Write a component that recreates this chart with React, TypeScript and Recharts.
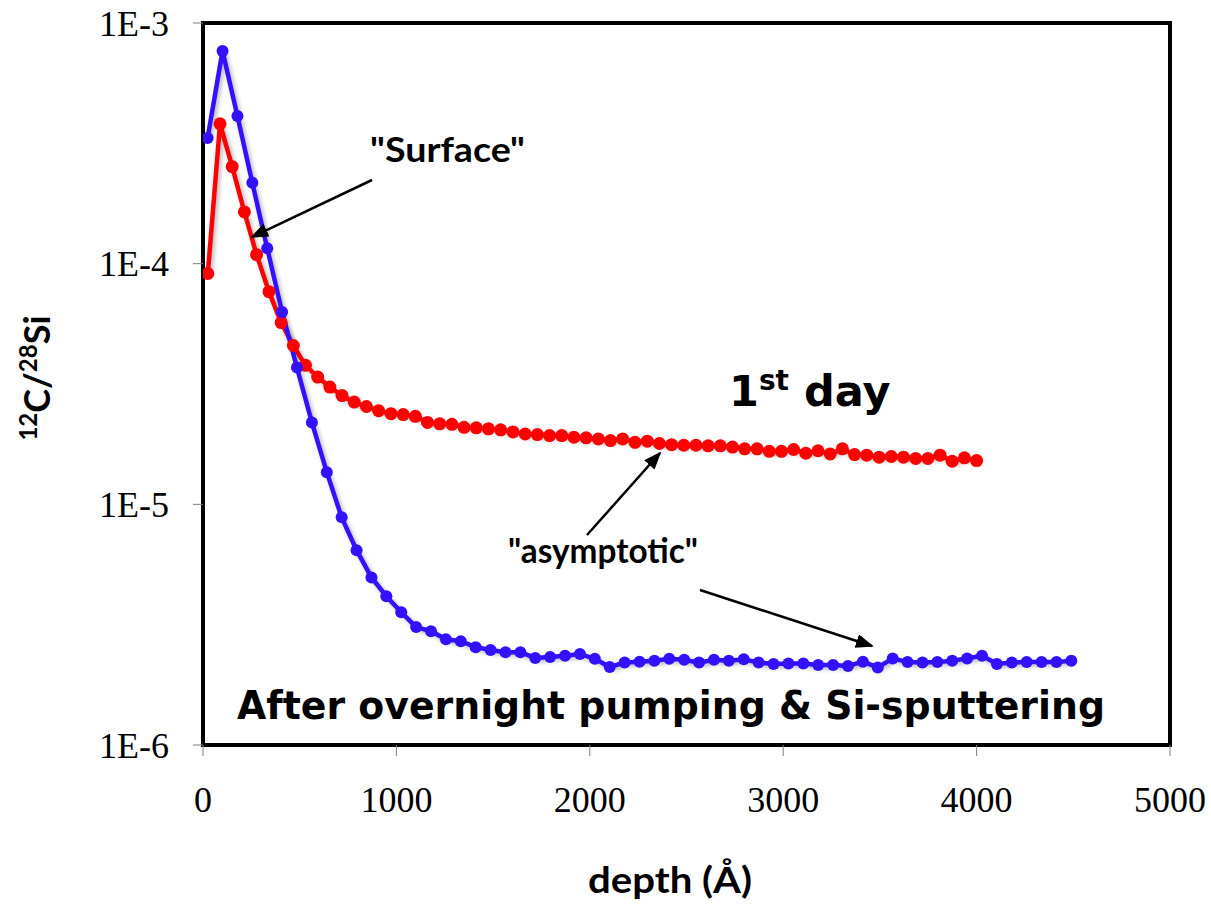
import React from 'react';
import { LineChart, Line, XAxis, YAxis, ReferenceArea } from 'recharts';

// depth (Å) and 12C/28Si ratio, first day (red)
const firstDayDepth = [
  25, 88, 151, 214, 277, 341, 404, 467, 530, 593, 656, 719, 782, 845, 908, 972,
  1035, 1098, 1161, 1224, 1287, 1350, 1413, 1476, 1539, 1603, 1666, 1729, 1792, 1855, 1918, 1981,
  2044, 2107, 2170, 2234, 2297, 2360, 2423, 2486, 2549, 2612, 2675, 2738, 2801, 2865, 2928, 2991,
  3054, 3117, 3180, 3243, 3306, 3369, 3432, 3496, 3559, 3622, 3685, 3748, 3811, 3874, 3937, 4000,
];
const firstDayRatio = [
  9.1e-5, 3.81e-4, 2.53e-4, 1.64e-4, 1.09e-4, 7.65e-5, 5.69e-5, 4.57e-5, 3.78e-5, 3.38e-5,
  3.07e-5, 2.83e-5, 2.66e-5, 2.55e-5, 2.45e-5, 2.38e-5, 2.36e-5, 2.32e-5, 2.19e-5, 2.16e-5,
  2.15e-5, 2.09e-5, 2.08e-5, 2.06e-5, 2.04e-5, 2.0e-5, 1.96e-5, 1.95e-5, 1.93e-5, 1.93e-5,
  1.9e-5, 1.89e-5, 1.87e-5, 1.84e-5, 1.87e-5, 1.81e-5, 1.83e-5, 1.79e-5, 1.77e-5, 1.76e-5,
  1.76e-5, 1.75e-5, 1.75e-5, 1.73e-5, 1.7e-5, 1.7e-5, 1.66e-5, 1.66e-5, 1.69e-5, 1.63e-5,
  1.67e-5, 1.62e-5, 1.7e-5, 1.61e-5, 1.6e-5, 1.57e-5, 1.58e-5, 1.57e-5, 1.55e-5, 1.55e-5,
  1.6e-5, 1.51e-5, 1.56e-5, 1.52e-5,
];

// after overnight pumping & Si-sputtering (blue)
const afterPumpDepth = [
  24, 101, 178, 255, 332, 409, 486, 563, 640, 717, 794, 871, 948, 1025, 1102, 1179,
  1256, 1333, 1410, 1487, 1564, 1641, 1718, 1795, 1872, 1949, 2026, 2103, 2180, 2257, 2334, 2411,
  2488, 2565, 2642, 2719, 2796, 2873, 2950, 3027, 3104, 3181, 3258, 3335, 3412, 3489, 3566, 3643,
  3720, 3797, 3874, 3951, 4028, 4105, 4182, 4259, 4336, 4413, 4490,
];
const afterPumpRatio = [
  3.33e-4, 7.65e-4, 4.11e-4, 2.17e-4, 1.16e-4, 6.3e-5, 3.7e-5, 2.19e-5, 1.36e-5, 8.83e-6,
  6.45e-6, 4.97e-6, 4.15e-6, 3.56e-6, 3.09e-6, 2.97e-6, 2.75e-6, 2.7e-6, 2.55e-6, 2.48e-6,
  2.43e-6, 2.43e-6, 2.3e-6, 2.32e-6, 2.35e-6, 2.39e-6, 2.28e-6, 2.11e-6, 2.2e-6, 2.22e-6,
  2.24e-6, 2.28e-6, 2.26e-6, 2.2e-6, 2.26e-6, 2.24e-6, 2.27e-6, 2.2e-6, 2.17e-6, 2.18e-6,
  2.18e-6, 2.15e-6, 2.15e-6, 2.13e-6, 2.22e-6, 2.1e-6, 2.29e-6, 2.21e-6, 2.2e-6, 2.21e-6,
  2.24e-6, 2.29e-6, 2.35e-6, 2.17e-6, 2.2e-6, 2.21e-6, 2.21e-6, 2.21e-6, 2.24e-6,
];

const xTicks = [0, 1000, 2000, 3000, 4000, 5000];
const yTicks = [1e-6, 1e-5, 1e-4, 1e-3];

const firstDay = firstDayDepth.map((depth, i) => ({ depth, ratio: firstDayRatio[i] }));
const afterPump = afterPumpDepth.map((depth, i) => ({ depth, ratio: afterPumpRatio[i] }));

const formatExp = (v: number) => `1E${Math.round(Math.log10(v))}`;

const calibri = 'Lato, "Open Sans", sans-serif';
const tahoma = '"DejaVu Sans", Verdana, sans-serif';

function Annotations() {
  return (
    <svg
      width={1211}
      height={905}
      style={{ position: 'absolute', left: 0, top: 0, pointerEvents: 'none' }}
    >
      <defs>
        <marker
          id="arrowHead"
          markerUnits="userSpaceOnUse"
          markerWidth={18}
          markerHeight={14}
          refX={16}
          refY={7}
          orient="auto"
        >
          <path d="M0,0 L18,7 L0,14 z" fill="#000" />
        </marker>
      </defs>

      {/* axis titles */}
      <text
        transform="translate(50,378) rotate(-90)"
        textAnchor="middle"
        fontFamily={calibri}
        fontWeight={700}
        fontSize={36}
        fill="#000"
      >
        <tspan fontSize={24} dy={-13}>12</tspan>
        <tspan dy={13}>C/</tspan>
        <tspan fontSize={24} dy={-13}>28</tspan>
        <tspan dy={13}>Si</tspan>
      </text>
      <text x={670} y={893} textAnchor="middle" fontFamily={calibri} fontWeight={700} fontSize={37} textLength={164} lengthAdjust="spacingAndGlyphs" fill="#000">
        depth (Å)
      </text>

      {/* labels inside the plot */}
      <text x={370} y={162} fontFamily={calibri} fontWeight={700} fontSize={34} textLength={155} lengthAdjust="spacingAndGlyphs" fill="#000">
        "Surface"
      </text>
      <line x1={372} y1={180} x2={252} y2={237} stroke="#000" strokeWidth={2.5} markerEnd="url(#arrowHead)" />

      <text x={729} y={406} fontFamily={tahoma} fontWeight={700} fontSize={43} fill="#000">
        <tspan>1</tspan>
        <tspan fontSize={28} dy={-16}>st</tspan>
        <tspan dy={16}> day</tspan>
      </text>

      <text x={508} y={563} fontFamily={calibri} fontWeight={700} fontSize={34} textLength={190} lengthAdjust="spacingAndGlyphs" fill="#000">
        "asymptotic"
      </text>
      <line x1={587} y1={535} x2={660} y2={453} stroke="#000" strokeWidth={2.5} markerEnd="url(#arrowHead)" />
      <line x1={700} y1={590} x2={872} y2={646} stroke="#000" strokeWidth={2.5} markerEnd="url(#arrowHead)" />

      <text x={237} y={719} fontFamily={tahoma} fontWeight={700} fontSize={39} textLength={868} lengthAdjust="spacingAndGlyphs" fill="#000">
        After overnight pumping &amp; Si-sputtering
      </text>
    </svg>
  );
}

export default function App() {
  return (
    <div style={{ position: 'relative', width: 1211, height: 905, background: '#fff' }}>
      <style>{`
        body { margin: 0; }
        .recharts-line { filter: drop-shadow(2px 2px 2px rgba(0,0,0,0.3)); }
      `}</style>
      <LineChart width={1211} height={905} margin={{ top: 23, right: 41, bottom: 0, left: 0 }}>
        <XAxis
          type="number"
          dataKey="depth"
          domain={[0, 5000]}
          ticks={xTicks}
          allowDataOverflow
          height={160}
          axisLine={false}
          tickLine={{ stroke: '#808080', strokeWidth: 1 }}
          tickSize={11}
          tickMargin={30}
          tick={{ fontFamily: '"Liberation Serif", serif', fontSize: 36, fill: '#000' }}
        />
        <YAxis
          type="number"
          dataKey="ratio"
          scale="log"
          domain={[1e-6, 1e-3]}
          ticks={yTicks}
          allowDataOverflow
          width={203}
          axisLine={false}
          tickLine={{ stroke: '#808080', strokeWidth: 1 }}
          tickSize={10}
          tickMargin={24}
          tickFormatter={formatExp}
          tick={{ fontFamily: '"Liberation Serif", serif', fontSize: 36, fill: '#000' }}
        />
        <ReferenceArea
          x1={0}
          x2={5000}
          y1={1e-6}
          y2={1e-3}
          fill="none"
          fillOpacity={0}
          stroke="#000"
          strokeWidth={4}
          ifOverflow="visible"
        />
        <Line
          data={firstDay}
          dataKey="ratio"
          type="linear"
          stroke="#ff0000"
          strokeWidth={4.5}
          dot={{ r: 6.5, fill: '#ff0000', stroke: '#ff0000', strokeWidth: 0 }}
          activeDot={false}
          isAnimationActive={false}
        />
        <Line
          data={afterPump}
          dataKey="ratio"
          type="linear"
          stroke="#3311ff"
          strokeWidth={4.5}
          dot={{ r: 6, fill: '#3311ff', stroke: '#3311ff', strokeWidth: 0 }}
          activeDot={false}
          isAnimationActive={false}
        />
      </LineChart>
      <Annotations />
    </div>
  );
}
